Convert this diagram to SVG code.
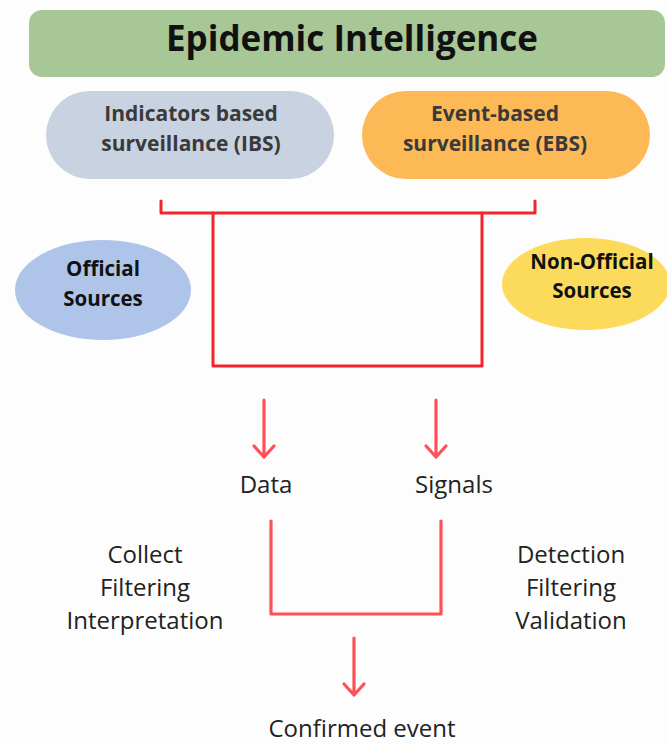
<svg xmlns="http://www.w3.org/2000/svg" width="667" height="744" viewBox="0 0 667 744">
  <style>
    .hdr { font-family: "Open Sans", "Noto Sans", sans-serif; font-weight: 700; text-anchor: middle; }
    .pill { font-family: "Open Sans", "Noto Sans", sans-serif; font-weight: 700; font-size: 21px; fill: #3a3a3a; text-anchor: middle; }
    .src { font-family: "Open Sans", "Noto Sans", sans-serif; font-weight: 700; font-size: 20.5px; fill: #111; text-anchor: middle; }
    .lbl { font-family: "Open Sans", "Noto Sans", sans-serif; font-size: 24px; fill: #222; text-anchor: middle; }
    .bracket { fill: none; stroke: #f5242a; stroke-width: 3; stroke-linejoin: round; stroke-linecap: round; }
    .flow { fill: none; stroke: #fd5157; stroke-width: 3.2; stroke-linecap: round; stroke-linejoin: round; }
  </style>
  <rect width="667" height="744" fill="#fdfdfd"/>

  <g id="epidemic-intelligence">
    <rect x="29" y="10" width="636" height="67" rx="13" fill="#a8c796"/>
    <text class="hdr" x="352" y="51" font-size="35" fill="#111">Epidemic Intelligence</text>
  </g>

  <g id="ibs">
    <rect x="46" y="91" width="288" height="88" rx="44" fill="#c8d2e1"/>
    <text class="pill" x="191" y="121">Indicators based</text>
    <text class="pill" x="191" y="151">surveillance (IBS)</text>
  </g>

  <g id="ebs">
    <rect x="362" y="91" width="288" height="88" rx="44" fill="#fdb956"/>
    <text class="pill" x="495" y="121" fill="#111">Event-based</text>
    <text class="pill" x="495" y="151" fill="#111">surveillance (EBS)</text>
  </g>

  <g id="official-sources">
    <ellipse cx="103" cy="290" rx="88" ry="50" fill="#aec4e8"/>
    <text class="src" x="103" y="276">Official</text>
    <text class="src" x="103" y="306">Sources</text>
  </g>

  <g id="non-official-sources">
    <ellipse cx="586" cy="284" rx="84" ry="46" fill="#fbda5c"/>
    <text class="src" x="592" y="269">Non-Official</text>
    <text class="src" x="592" y="298">Sources</text>
  </g>

  <g id="data">
    <text class="lbl" x="266" y="493">Data</text>
  </g>
  <g id="signals">
    <text class="lbl" x="454" y="493">Signals</text>
  </g>

  <g id="ibs-steps">
    <text class="lbl" x="145" y="563">Collect</text>
    <text class="lbl" x="145" y="596">Filtering</text>
    <text class="lbl" x="145" y="629">Interpretation</text>
  </g>
  <g id="ebs-steps">
    <text class="lbl" x="571" y="563">Detection</text>
    <text class="lbl" x="571" y="596">Filtering</text>
    <text class="lbl" x="571" y="629">Validation</text>
  </g>

  <g id="confirmed-event">
    <text class="lbl" x="362" y="737">Confirmed event</text>
  </g>

  <g id="connectors">
    <!-- bracket joining the two surveillance streams -->
    <path class="bracket" d="M161 201 V213 H535 V201"/>
    <path class="bracket" d="M213 213 V366 H482 V213"/>
    <!-- arrows down to data and signals -->
    <path class="flow" d="M264 400 V456 M254 446 L264 457 L274 446"/>
    <path class="flow" d="M436 400 V456 M426 446 L436 457 L446 446"/>
    <!-- merge of data and signals -->
    <path class="flow" d="M271 521 V614 H441 V521"/>
    <!-- arrow to the confirmed event -->
    <path class="flow" d="M354 638 V694 M344 684 L354 695 L364 684"/>
  </g>
</svg>
